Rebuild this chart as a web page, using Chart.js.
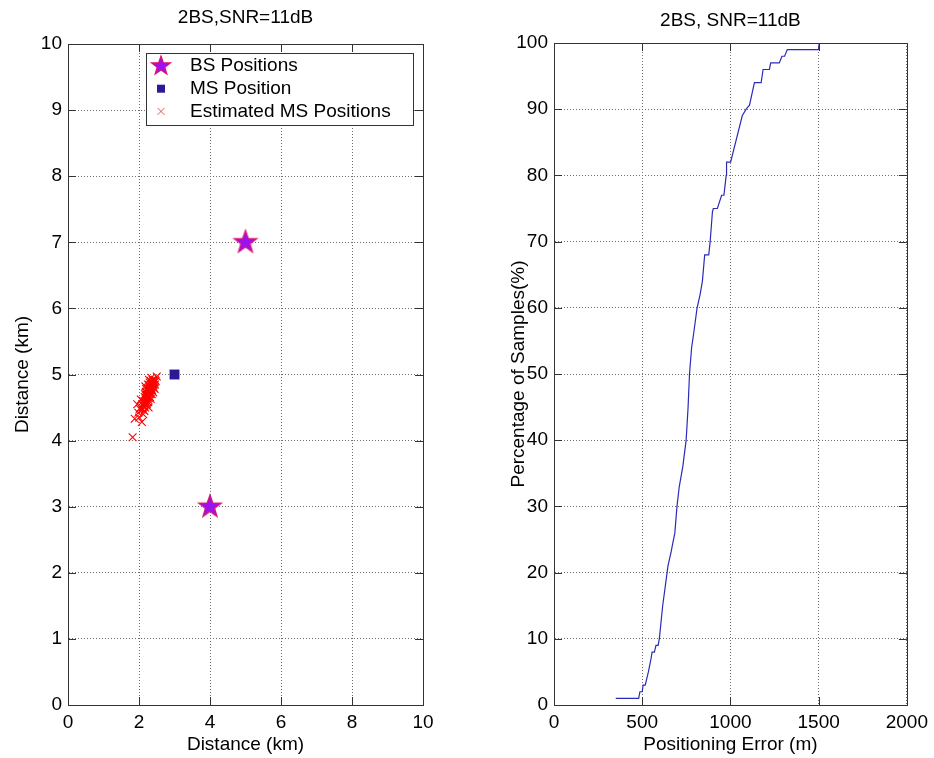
<!DOCTYPE html>
<html>
<head>
<meta charset="utf-8">
<script src="https://cdn.jsdelivr.net/npm/chart.js@4.4.0/dist/chart.umd.min.js"></script>
<style>
html, body { margin: 0; padding: 0; background: #fff; }
#wrap { position: relative; width: 934px; height: 758px; }
.box { position: absolute; top: 0; width: 467px; height: 758px; }
</style>
</head>
<body>
<div id="wrap">
  <div class="box" style="left:0"><canvas id="posChart" width="467" height="758"></canvas></div>
  <div class="box" style="left:467px"><canvas id="cdfChart" width="467" height="758"></canvas></div>
</div>
<script>
// base stations, true MS, estimated MS (km)
const bsX = [4, 5];
const bsY = [3, 7];
const msX = [3];
const msY = [5];
const estX = [1.82, 1.88, 2.08, 1.95, 2.05, 2.10, 2.15, 2.12, 2.18, 2.20, 2.22, 2.25, 2.17, 2.23, 2.28, 2.30, 2.26, 2.32, 2.35,
              2.38, 2.30, 2.40, 2.45, 2.50, 2.42, 2.36, 2.20, 2.15, 2.27, 2.33, 2.25, 2.40, 2.12, 2.05, 2.28, 2.35, 2.18, 2.45,
              2.14, 2.19, 2.24, 2.29, 2.31, 2.21, 2.16, 2.26, 2.34, 2.39, 2.22, 2.27, 2.32, 2.37, 2.43, 2.19, 2.24, 2.29,
              2.13, 2.17, 2.21, 2.31, 2.36, 2.41, 2.47, 2.23, 2.09, 2.02, 1.98, 2.00, 2.33, 2.26, 2.38, 2.44];
const estY = [4.05, 4.33, 4.28, 4.55, 4.50, 4.47, 4.52, 4.60, 4.58, 4.65, 4.55, 4.62, 4.70, 4.72, 4.68, 4.75, 4.80, 4.82, 4.78,
              4.85, 4.88, 4.90, 4.92, 4.97, 4.80, 4.70, 4.78, 4.45, 4.50, 4.63, 4.85, 4.73, 4.40, 4.62, 4.92, 4.95, 4.82, 4.85,
              4.56, 4.62, 4.66, 4.72, 4.80, 4.70, 4.66, 4.75, 4.86, 4.88, 4.60, 4.64, 4.70, 4.76, 4.88, 4.74, 4.79, 4.84,
              4.52, 4.50, 4.57, 4.66, 4.82, 4.84, 4.90, 4.68, 4.55, 4.48, 4.42, 4.35, 4.90, 4.58, 4.92, 4.78];

// positioning error CDF
const errX = [350, 480, 487, 500, 505, 517, 535, 550, 556, 569, 578, 590, 597, 616, 631, 646, 663, 670, 685, 697, 710,
              730, 749, 760, 768, 780, 791, 811, 828, 841, 854, 877, 885, 898, 903, 926, 950, 963, 976, 978, 1001,
              1067, 1089, 1108, 1136, 1174, 1185, 1221, 1228, 1277, 1292, 1307, 1322, 1499, 1503];
const errPct = [1, 1, 2, 2, 3, 3, 5, 7, 8, 8, 9, 9, 10, 15, 18, 21, 23, 24, 26, 30, 33,
                36, 40, 45, 50, 54, 56, 60, 62, 64, 68, 68, 70, 74.5, 75, 75, 77, 77, 80, 82, 82,
                89, 90, 90.6, 94, 94, 96, 96, 97, 97, 98, 98, 99, 99, 100];

const FONT = "'Liberation Sans', Arial, sans-serif";
Chart.defaults.font.family = FONT;
Chart.defaults.font.size = 19;
Chart.defaults.color = "#000";

function makeStar(r, fill, edge){
    const s = Math.ceil(r * 2 + 4);
    const c = document.createElement("canvas");
    c.width = s; c.height = s;
    const g = c.getContext("2d");
    g.beginPath();
    for(let i = 0; i < 10; i++){
        const rad = i % 2 ? r * 0.4 : r;
        const a = -Math.PI / 2 + i * Math.PI / 5;
        const px = s / 2 + rad * Math.cos(a), py = s / 2 + rad * Math.sin(a);
        i ? g.lineTo(px, py) : g.moveTo(px, py);
    }
    g.closePath();
    g.fillStyle = fill; g.fill();
    g.strokeStyle = edge; g.lineWidth = 1.2; g.stroke();
    return c;
}

const STAR_FILL = "#9a12ee", STAR_EDGE = "#e0106e";
const starPlot = makeStar(12, STAR_FILL, STAR_EDGE);
const starLegend = makeStar(10, STAR_FILL, STAR_EDGE);

// MATLAB-like box, inward ticks and title
const matlabFrame = {
    id: "matlabFrame",
    afterDraw(chart, args, opts){
        const {ctx, chartArea: a} = chart;
        const xs = chart.scales.x, ys = chart.scales.y;
        ctx.save();
        ctx.strokeStyle = "#333";
        ctx.lineWidth = 1;
        ctx.strokeRect(Math.round(a.left) + 0.5, Math.round(a.top) + 0.5,
                       Math.round(a.right - a.left), Math.round(a.bottom - a.top));
        const tl = 8;
        ctx.beginPath();
        xs.ticks.forEach(t => {
            const px = Math.round(xs.getPixelForValue(t.value)) + 0.5;
            ctx.moveTo(px, a.bottom); ctx.lineTo(px, a.bottom - tl);
            ctx.moveTo(px, a.top); ctx.lineTo(px, a.top + tl);
        });
        ys.ticks.forEach(t => {
            const py = Math.round(ys.getPixelForValue(t.value)) + 0.5;
            ctx.moveTo(a.left, py); ctx.lineTo(a.left + tl, py);
            ctx.moveTo(a.right, py); ctx.lineTo(a.right - tl, py);
        });
        ctx.stroke();
        ctx.fillStyle = "#000";
        ctx.font = "19px " + FONT;
        ctx.textAlign = "center";
        ctx.textBaseline = "middle";
        ctx.fillText(opts.title, (a.left + a.right) / 2, opts.titleY);
        ctx.restore();
    }
};

// legend box drawn inside the plot area
const boxLegend = {
    id: "boxLegend",
    afterDraw(chart, args, opts){
        const {ctx} = chart;
        const [x0, y0, w, h] = opts.rect;
        ctx.save();
        ctx.fillStyle = "#fff";
        ctx.fillRect(x0, y0, w, h);
        ctx.strokeStyle = "#333";
        ctx.lineWidth = 1;
        ctx.strokeRect(x0 + 0.5, y0 + 0.5, w, h);
        ctx.font = "19px " + FONT;
        ctx.textBaseline = "middle";
        ctx.fillStyle = "#000";
        chart.data.datasets.forEach((ds, i) => {
            const cy = y0 + 13 + i * 22.7;
            const mx = x0 + 15;
            if(i === 0){
                ctx.drawImage(starLegend, mx - starLegend.width / 2, cy - starLegend.height / 2);
            } else if(i === 1){
                ctx.fillStyle = ds.backgroundColor;
                ctx.fillRect(mx - 4, cy - 4, 8, 8);
            } else {
                ctx.strokeStyle = "#e05a5a";
                ctx.beginPath();
                ctx.moveTo(mx - 3.5, cy - 3.5); ctx.lineTo(mx + 3.5, cy + 3.5);
                ctx.moveTo(mx + 3.5, cy - 3.5); ctx.lineTo(mx - 3.5, cy + 3.5);
                ctx.stroke();
            }
            ctx.fillStyle = "#000";
            ctx.fillText(ds.label, x0 + 44, cy);
        });
        ctx.restore();
    }
};

const gridOpts = { color: "#6e6e6e", lineWidth: 1, drawTicks: false };
const borderOpts = { display: true, color: "#333", dash: [1, 2] };
const plainTick = v => String(v);

new Chart(document.getElementById("posChart"), {
    type: "scatter",
    data: {
        datasets: [{
            label: "BS Positions",
            data: bsX.map((x, i) => ({x, y: bsY[i]})),
            pointStyle: starPlot
        }, {
            label: "MS Position",
            data: msX.map((x, i) => ({x, y: msY[i]})),
            pointStyle: "rect",
            pointRadius: 7,
            backgroundColor: "#2a1a96",
            borderColor: "#2a1a96",
            borderWidth: 0
        }, {
            label: "Estimated MS Positions",
            data: estX.map((x, i) => ({x, y: estY[i]})),
            pointStyle: "crossRot",
            pointRadius: 5.5,
            borderColor: "#ff0000",
            borderWidth: 1.1
        }]
    },
    options: {
        responsive: false,
        animation: false,
        events: [],
        layout: { padding: { top: 44, right: 44, left: 0, bottom: 0 } },
        plugins: {
            legend: { display: false },
            tooltip: { enabled: false },
            matlabFrame: { title: "2BS,SNR=11dB", titleY: 18 },
            boxLegend: { rect: [146, 53, 267, 72] }
        },
        scales: {
            x: {
                type: "linear", min: 0, max: 10,
                ticks: { stepSize: 2, padding: 6, callback: plainTick },
                grid: gridOpts, border: borderOpts,
                title: { display: true, text: "Distance (km)", padding: { top: 0, bottom: 2 } },
                afterFit: s => { s.height = 53; }
            },
            y: {
                type: "linear", min: 0, max: 10,
                ticks: { stepSize: 1, padding: 6, callback: plainTick },
                grid: gridOpts, border: borderOpts,
                title: { display: true, text: "Distance (km)", padding: { top: 11, bottom: 0 } },
                afterFit: s => { s.width = 68; }
            }
        }
    },
    plugins: [matlabFrame, boxLegend]
});

new Chart(document.getElementById("cdfChart"), {
    type: "line",
    data: {
        datasets: [{
            label: "CDF",
            data: errX.map((x, i) => ({x, y: errPct[i]})),
            borderColor: "#2b2bb8",
            borderWidth: 1.2,
            pointRadius: 0,
            fill: false,
            tension: 0
        }]
    },
    options: {
        responsive: false,
        animation: false,
        events: [],
        layout: { padding: { top: 43, right: 25, left: 0, bottom: 0 } },
        plugins: {
            legend: { display: false },
            tooltip: { enabled: false },
            matlabFrame: { title: "2BS, SNR=11dB", titleY: 21 }
        },
        scales: {
            x: {
                type: "linear", min: 0, max: 2000,
                ticks: { stepSize: 500, padding: 6, callback: plainTick },
                grid: gridOpts, border: borderOpts,
                title: { display: true, text: "Positioning Error (m)", padding: { top: 0, bottom: 2 } },
                afterFit: s => { s.height = 53; }
            },
            y: {
                type: "linear", min: 0, max: 100,
                ticks: { stepSize: 10, padding: 6, callback: plainTick },
                grid: gridOpts, border: borderOpts,
                title: { display: true, text: "Percentage of Samples(%)", padding: { top: 40, bottom: 0 } },
                afterFit: s => { s.width = 87; }
            }
        }
    },
    plugins: [matlabFrame]
});
</script>
</body>
</html>
